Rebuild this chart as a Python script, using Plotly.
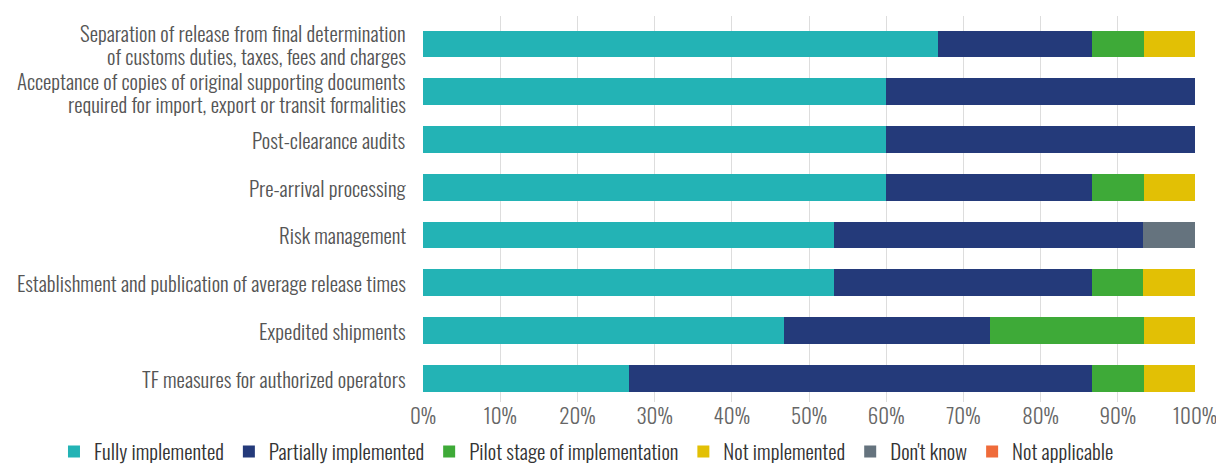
import plotly.graph_objects as go

categories = [
    "Separation of release from final determination<br>of customs duties, taxes, fees and charges",
    "Acceptance of copies of original supporting documents<br>required for import, export or transit formalities",
    "Post-clearance audits",
    "Pre-arrival processing",
    "Risk management",
    "Establishment and publication of average release times",
    "Expedited shipments",
    "TF measures for authorized operators",
]

fully = [66.7, 60.0, 60.0, 60.0, 53.3, 53.3, 46.7, 26.7]
partially = [20.0, 40.0, 40.0, 26.7, 40.0, 33.3, 26.7, 60.0]
pilot = [6.7, 0, 0, 6.7, 0, 6.7, 20.0, 6.7]
not_impl = [6.6, 0, 0, 6.6, 0, 6.7, 6.6, 6.6]
dont_know = [0, 0, 0, 0, 6.7, 0, 0, 0]
not_applicable = [0, 0, 0, 0, 0, 0, 0, 0]

series = [
    ("Fully implemented", fully, "#23B3B5"),
    ("Partially implemented", partially, "#243A7A"),
    ("Pilot stage of implementation", pilot, "#3EAA38"),
    ("Not implemented", not_impl, "#E2C005"),
    ("Don't know", dont_know, "#65737E"),
    ("Not applicable", not_applicable, "#EF6B3A"),
]

tick_vals = [0, 10, 20, 30, 40, 50, 60, 70, 80, 90, 100]
tick_text = [f"{v}%" for v in tick_vals]

FONT = "Oswald, Roboto Condensed, sans-serif"
LABEL_FONT = dict(family=FONT, size=21, color="#555555", weight=300)

fig = go.Figure()
for name, vals, color in series:
    fig.add_trace(go.Bar(
        y=categories, x=vals, name=name, orientation="h",
        marker=dict(color=color, line=dict(width=0)),
        hoverinfo="x+name",
    ))

# category labels (drawn line by line for tighter line spacing)
LINE_GAP = 23
for cat in categories:
    lines = cat.split("<br>")
    n = len(lines)
    for i, line in enumerate(lines):
        shift = ((n - 1) / 2 - i) * LINE_GAP
        fig.add_annotation(
            x=0, xref="paper", y=cat, yref="y", text=line,
            xanchor="right", yanchor="middle", xshift=-16, yshift=shift,
            showarrow=False, font=LABEL_FONT, borderpad=0,
        )

fig.update_layout(
    barmode="stack",
    bargap=0.44,
    width=1224, height=473,
    margin=dict(l=415, r=37, t=8, b=79),
    paper_bgcolor="white", plot_bgcolor="white",
    font=dict(family=FONT, size=21, color="#555555", weight=300),
    xaxis=dict(
        range=[0, 100], tickvals=tick_vals, ticktext=tick_text,
        showgrid=True, gridcolor="#DDDDDD", gridwidth=1,
        zeroline=False, showline=False, automargin=False,
        tickfont=dict(family=FONT, size=21, color="#666666", weight=300),
        ticks="", ticklen=0,
    ),
    yaxis=dict(
        autorange="reversed", showgrid=False, zeroline=False, automargin=False,
        showticklabels=False, ticks="",
    ),
    legend=dict(
        orientation="h", xref="paper", x=-0.478, xanchor="left",
        yref="paper", y=-0.076, yanchor="top",
        bgcolor="rgba(0,0,0,0)",
        font=dict(family=FONT, size=21, color="#333333", weight=300),
        traceorder="normal",
    ),
)

fig.write_html("out.html")
